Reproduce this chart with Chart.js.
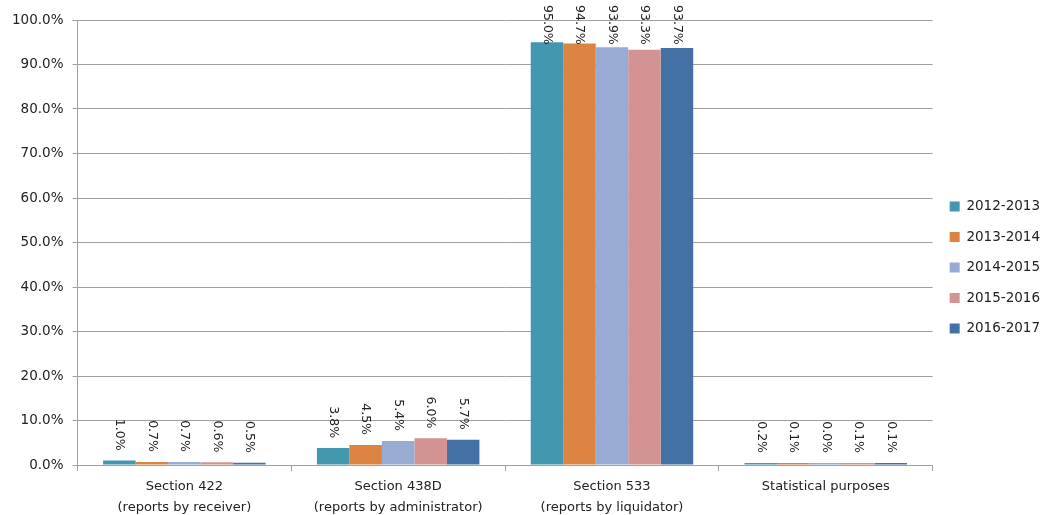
<!DOCTYPE html>
<html>
<head>
<meta charset="utf-8">
<script src="https://cdn.jsdelivr.net/npm/chart.js@4"></script>
<style>
  html, body { margin: 0; padding: 0; background: #fff; }
  #wrap { width: 1054px; height: 515px; }
</style>
</head>
<body>
<div id="wrap"><canvas id="myChart"></canvas></div>
<script>
const categories = [
  ['Section 422', '(reports by receiver)'],
  ['Section 438D', '(reports by administrator)'],
  ['Section 533', '(reports by liquidator)'],
  ['Statistical purposes']
];
const y2012 = [1.0, 3.8, 95.0, 0.2];
const y2013 = [0.7, 4.5, 94.7, 0.1];
const y2014 = [0.7, 5.4, 93.9, 0.0];
const y2015 = [0.6, 6.0, 93.3, 0.1];
const y2016 = [0.5, 5.7, 93.7, 0.1];
const seriesNames = ['2012-2013', '2013-2014', '2014-2015', '2015-2016', '2016-2017'];
const colors = ['#4397ae', '#db8340', '#98abd3', '#d39392', '#4471a5'];

const font = 'DejaVu Sans';

// rotated value labels above each bar
const barLabels = {
  id: 'barLabels',
  afterDatasetsDraw(chart) {
    const c = chart.ctx;
    c.save();
    c.font = '12.5px "' + font + '"';
    c.fillStyle = '#222';
    c.textAlign = 'right';
    c.textBaseline = 'middle';
    chart.data.datasets.forEach((ds, i) => {
      chart.getDatasetMeta(i).data.forEach((bar, j) => {
        const txt = ds.data[j].toFixed(1) + '%';
        const w = c.measureText(txt).width;
        const end = Math.max(bar.y - 10, 5 + w);
        c.save();
        c.translate(bar.x, end);
        c.rotate(Math.PI / 2);
        c.fillText(txt, 0, 0);
        c.restore();
      });
    });
    c.restore();
  }
};

const ctx = document.getElementById('myChart');

new Chart(ctx, {
  type: 'bar',
  data: {
    labels: categories,
    datasets: seriesNames.map((name, i) => ({
      label: name,
      data: [y2012, y2013, y2014, y2015, y2016][i],
      backgroundColor: colors[i],
      minBarLength: 2
    }))
  },
  options: {
    responsive: true,
    maintainAspectRatio: false,
    animation: false,
    categoryPercentage: 0.76,
    barPercentage: 1.0,
    layout: { padding: { top: 20, right: 4, left: 3, bottom: 0 } },
    plugins: {
      legend: {
        position: 'right',
        labels: {
          boxWidth: 10,
          boxHeight: 10,
          padding: 17,
          color: '#222',
          font: { family: font, size: 13.5 }
        }
      },
      tooltip: { enabled: false }
    },
    scales: {
      x: {
        afterFit: scale => { scale.height = 50; },
        grid: {
          offset: true,
          drawOnChartArea: false,
          tickLength: 6,
          color: '#a0a0a0'
        },
        border: { color: '#a0a0a0' },
        ticks: {
          color: '#222',
          padding: 6,
          font: { family: font, size: 13, lineHeight: 1.55 },
          maxRotation: 0
        }
      },
      y: {
        min: 0,
        max: 100,
        ticks: {
          stepSize: 10,
          color: '#222',
          padding: 9,
          font: { family: font, size: 13.5 },
          callback: v => v.toFixed(1) + '%'
        },
        grid: { color: '#a0a0a0', tickLength: 5 },
        border: { color: '#a0a0a0' }
      }
    }
  },
  plugins: [barLabels]
});
</script>
</body>
</html>
